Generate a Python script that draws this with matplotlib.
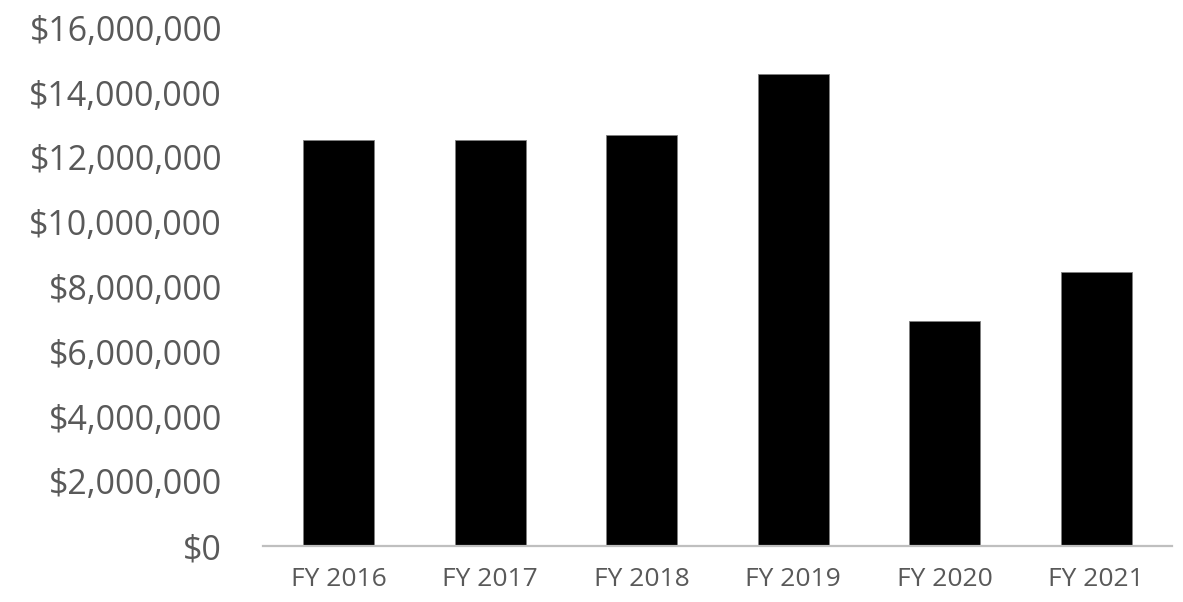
import matplotlib.pyplot as plt
from matplotlib.ticker import FuncFormatter

years = ['FY 2016', 'FY 2017', 'FY 2018', 'FY 2019', 'FY 2020', 'FY 2021']
amounts = [12540000, 12540000, 12690000, 14570000, 6960000, 8450000]

plt.rcParams['font.family'] = ['Open Sans', 'DejaVu Sans']

W, H = 1183, 602
fig = plt.figure(figsize=(W / 100, H / 100), dpi=100)
ax = fig.add_axes([263 / W, 1 - 546 / H, (1172 - 263) / W, (546 - 28) / H])

ax.bar(range(len(years)), amounts, width=0.47, color='black', edgecolor='#7f7f7f', linewidth=0.6)
ax.set_xlim(-0.5, len(years) - 0.5)
ax.set_ylim(0, 16000000)
ax.set_yticks(range(0, 16000001, 2000000))
ax.yaxis.set_major_formatter(FuncFormatter(lambda v, p: '${:,.0f}'.format(v)))
ax.set_xticks(range(len(years)))
ax.set_xticklabels(years)

for s in ['top', 'right', 'left']:
    ax.spines[s].set_visible(False)
ax.spines['bottom'].set_color('#bfbfbf')
ax.spines['bottom'].set_linewidth(1.6)
ax.tick_params(axis='y', length=0, labelsize=24.5, labelcolor='#595959', pad=29.5)
ax.tick_params(axis='x', length=0, labelsize=19, labelcolor='#595959', pad=15)

fig.savefig('out.png', dpi=100)
